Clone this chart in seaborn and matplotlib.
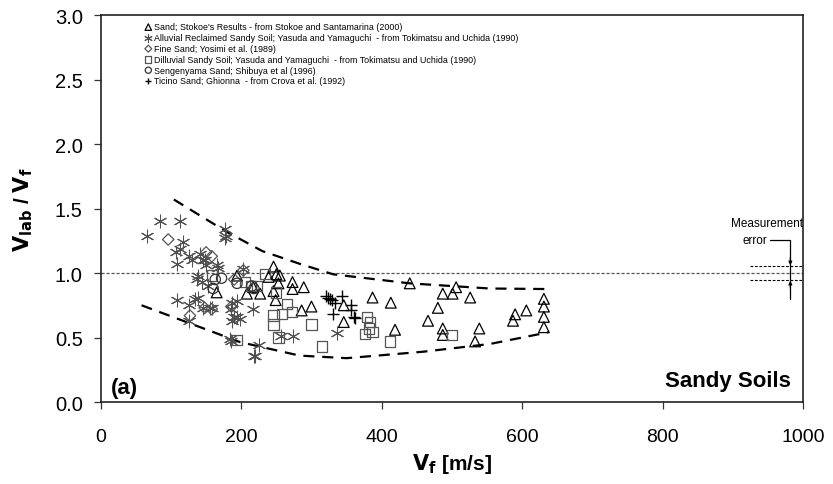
import matplotlib
matplotlib.use("Agg")
import matplotlib.pyplot as plt
import seaborn as sns
import numpy as np
import pandas as pd

# ---- data -------------------------------------------------------------
# Sand; Stokoe's Results
sand_vf = [165, 194, 208, 217, 227, 239, 246, 250, 253, 246, 249, 255,
           273, 273, 289, 286, 300, 346, 346, 387, 413, 419, 440, 466,
           480, 487, 501, 506, 487, 487, 526, 539, 533, 587, 590, 606,
           631, 631, 631, 631]
sand_ratio = [0.85, 0.98, 0.84, 0.89, 0.84, 0.97, 1.05, 0.99, 0.92, 0.86, 0.79, 0.98,
              0.93, 0.876, 0.89, 0.71, 0.74, 0.75, 0.62, 0.81, 0.77, 0.56, 0.92, 0.63,
              0.73, 0.84, 0.84, 0.89, 0.57, 0.52, 0.81, 0.57, 0.47, 0.63, 0.68, 0.71,
              0.80, 0.74, 0.66, 0.58]

# Alluvial reclaimed sandy soil
alluv_vf = [66, 85, 113, 117, 113, 107, 108, 126, 141, 146, 150, 139, 144,
            167, 177, 177, 178, 108, 126, 126, 139, 156, 187, 194, 187, 203,
            217, 185, 226, 218, 256, 274, 149, 165, 137, 134, 146, 158, 194,
            186, 189, 198, 184, 220, 336, 152, 130]
alluv_ratio = [1.29, 1.40, 1.405, 1.24, 1.19, 1.16, 1.07, 1.13, 1.15, 1.10, 1.06, 0.98, 0.93,
               1.04, 1.34, 1.27, 1.29, 0.79, 0.75, 0.63, 0.81, 0.73, 0.77, 0.66, 0.63, 1.03,
               0.72, 0.475, 0.44, 0.355, 0.51, 0.51, 1.10, 1.06, 0.95, 0.80, 0.73, 0.73, 0.785,
               0.72, 0.66, 0.64, 0.49, 0.36, 0.535, 0.90, 1.10]

# Fine sand
fine_vf = [96, 150, 158, 148, 127, 158, 186, 190, 203]
fine_ratio = [1.26, 1.16, 1.13, 0.73, 0.67, 0.72, 0.74, 0.95, 1.02]

# Dilluvial sandy soil
dill_vf = [158, 205, 214, 222, 234, 250, 265, 272, 258, 246, 246, 253, 194,
           300, 315, 379, 383, 382, 376, 387, 412, 500]
dill_ratio = [0.98, 0.93, 0.90, 0.90, 0.99, 0.85, 0.76, 0.70, 0.68, 0.67, 0.60, 0.50, 0.48,
              0.60, 0.43, 0.66, 0.62, 0.57, 0.53, 0.545, 0.47, 0.52]

# Sengenyama sand
seng_vf = [163, 172, 160, 194, 215, 218]
seng_ratio = [0.95, 0.96, 0.88, 0.92, 0.90, 0.88]

# Ticino sand
tic_vf = [320, 323, 326, 329, 333, 343, 331, 357, 357, 360, 362]
tic_ratio = [0.82, 0.81, 0.80, 0.79, 0.77, 0.82, 0.68, 0.75, 0.71, 0.66, 0.65]

# bounding envelope of the data
upper_vf = [104, 179, 230, 284, 331, 440, 554, 632]
upper_ratio = [1.57, 1.32, 1.17, 1.07, 0.99, 0.92, 0.88, 0.876]
lower_vf = [58, 122, 198, 283, 350, 459, 554, 637]
lower_ratio = [0.75, 0.62, 0.465, 0.36, 0.34, 0.39, 0.45, 0.54]

labels = [
    "Sand; Stokoe's Results - from Stokoe and Santamarina (2000)",
    "Alluvial Reclaimed Sandy Soil; Yasuda and Yamaguchi  - from Tokimatsu and Uchida (1990)",
    "Fine Sand; Yosimi et al. (1989)",
    "Dilluvial Sandy Soil; Yasuda and Yamaguchi  - from Tokimatsu and Uchida (1990)",
    "Sengenyama Sand; Shibuya et al (1996)",
    "Ticino Sand; Ghionna  - from Crova et al. (1992)",
]

xticks = [0, 200, 400, 600, 800, 1000]
yticks = [0.0, 0.5, 1.0, 1.5, 2.0, 2.5, 3.0]

# ---- figure -----------------------------------------------------------
sns.set_theme(style="white")
plt.rcParams["font.family"] = ["Liberation Sans", "DejaVu Sans"]
plt.rcParams["text.color"] = "black"
plt.rcParams["axes.labelcolor"] = "black"
plt.rcParams["xtick.color"] = "black"
plt.rcParams["ytick.color"] = "black"

fig = plt.figure(figsize=(8.33, 4.85), dpi=100)
ax = fig.add_axes([0.121, 0.169, 0.843, 0.798])

asterisk = (6, 2, 0)
series = [
    (sand_vf, sand_ratio, "^", "black", 60, 0.9),
    (alluv_vf, alluv_ratio, asterisk, "#505050", 85, 0.75),
    (fine_vf, fine_ratio, "D", "#555555", 34, 0.9),
    (dill_vf, dill_ratio, "s", "#555555", 55, 0.9),
    (seng_vf, seng_ratio, "o", "#333333", 55, 0.9),
    (tic_vf, tic_ratio, "+", "black", 70, 1.0),
]
for (xs, ys, mk, col, size, lw), lab in zip(series, labels):
    df = pd.DataFrame({"vf": xs, "ratio": ys})
    if mk in ("+", asterisk):
        sns.scatterplot(data=df, x="vf", y="ratio", marker=mk, color=col,
                        s=size, linewidth=lw, label=lab, ax=ax, zorder=3)
    else:
        sns.scatterplot(data=df, x="vf", y="ratio", marker=mk, facecolor="none",
                        edgecolor=col, s=size, linewidth=lw, label=lab, ax=ax,
                        zorder=3)

# envelope curves
for xs, ys in [(upper_vf, upper_ratio), (lower_vf, lower_ratio)]:
    sns.lineplot(x=xs, y=ys, sort=False, color="black", linewidth=1.6,
                 ax=ax, zorder=2, legend=False)
for ln in ax.lines[-2:]:
    ln.set_dashes([5, 3.5])

# reference line at a ratio of one
ax.axhline(1.0, color="#555555", linewidth=0.9, dashes=(2.5, 1.5), zorder=1)

# measurement error band
for yv in (1.055, 0.945):
    ax.plot([925, 1000], [yv, yv], color="black", linewidth=0.8,
            dashes=(2.5, 1.5), zorder=1)
ax.plot([953, 982, 982], [1.256, 1.256, 0.80], color="black", linewidth=0.9, zorder=2)
ax.annotate("", xy=(982, 1.06), xytext=(982, 1.12),
            arrowprops=dict(arrowstyle="-|>", color="black", lw=0.9,
                            mutation_scale=5, shrinkA=0, shrinkB=0))
ax.annotate("", xy=(982, 0.94), xytext=(982, 0.88),
            arrowprops=dict(arrowstyle="-|>", color="black", lw=0.9,
                            mutation_scale=5, shrinkA=0, shrinkB=0))
ax.text(949, 1.39, "Measurement", fontsize=8.5, ha="center", va="center")
ax.text(931, 1.256, "error", fontsize=8.5, ha="center", va="center")

ax.text(15, 0.11, "(a)", fontsize=16, fontweight="bold", ha="left", va="center")
ax.text(983, 0.165, "Sandy Soils", fontsize=16, fontweight="bold",
        ha="right", va="center")

ax.set_xlim(0, 1000)
ax.set_ylim(0, 3.0)
ax.set_xticks(xticks)
ax.set_yticks(yticks)
ax.set_xticklabels([str(t) for t in xticks], fontsize=14)
ax.set_yticklabels([f"{t:.1f}" for t in yticks], fontsize=14.5)
ax.tick_params(direction="out", length=5, width=0.9, color="#333333",
               bottom=True, left=True)
ax.tick_params(axis="x", pad=14)
ax.tick_params(axis="y", pad=8)
for sp in ax.spines.values():
    sp.set_color("#222222")
    sp.set_linewidth(1.2)
ax.grid(False)

ax.set_xlabel(r"$\mathbf{V_f}$ [m/s]", fontsize=15, fontweight="bold", labelpad=4)
ax.set_ylabel(r"$\mathbf{V_{lab}}$ / $\mathbf{V_f}$", fontsize=15,
              fontweight="bold", labelpad=14)

leg = ax.legend(loc="upper left", bbox_to_anchor=(0.055, 0.99), frameon=False,
                fontsize=6.4, handletextpad=0.0, labelspacing=0.2,
                markerscale=0.6, borderaxespad=0, handlelength=1.2)

fig.savefig("out.png", dpi=100)
